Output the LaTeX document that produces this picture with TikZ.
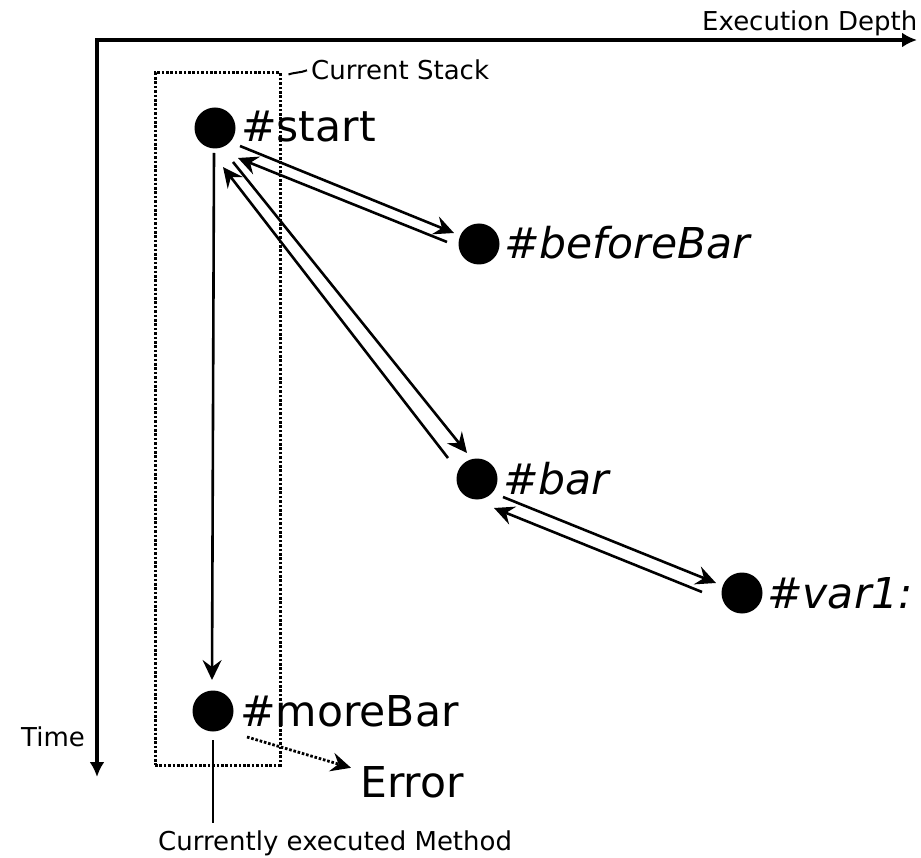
\documentclass[tikz,border=0pt]{standalone}
\usepackage{fontspec}
\setmainfont{DejaVu Sans}
\usetikzlibrary{arrows.meta}

\tikzset{
  dot/.style={circle, fill=black, inner sep=0pt, minimum size=41pt},
  biglabel/.style={anchor=base west, inner sep=0pt, font=\fontsize{42.5}{50}\selectfont},
  smalllabel/.style={anchor=base west, inner sep=0pt, font=\fontsize{26}{30}\selectfont},
  axis/.style={line width=3.3pt, line join=miter, {Latex[length=15pt,width=15pt]}-{Latex[length=15pt,width=15pt]}},
  call/.style={line width=2.6pt, -{Stealth[length=20pt,width=19pt,inset=7pt]}},
  stackbox/.style={draw, line width=3pt, dash pattern=on 2.6pt off 1.8pt, minimum width=125pt, minimum height=692pt, inner sep=0pt},
  throw/.style={line width=2.8pt, dash pattern=on 2.6pt off 1.8pt, -{Stealth[length=20pt,width=19pt,inset=7pt]}},
  pointer/.style={line width=2.6pt}
}

\begin{document}
\begin{tikzpicture}[x=1pt, y=-1pt]
  \useasboundingbox (0,0) rectangle (921,858);

  % axes
  \coordinate (O) at (97,40);
  \coordinate (tEnd) at (97,777);
  \coordinate (dEnd) at (917,40);
  \draw[axis] (tEnd) -- (O) -- (dEnd);
  \node[smalllabel] (depth) at (702,31) {Execution Depth};
  \node[smalllabel] (time) at (21,746) {Time};

  % current stack frame
  \node[stackbox] (stack) at (217.5,419) {};
  \node[smalllabel] (cs) at (311,80) {Current Stack};
  \draw[pointer, line width=2pt] ([shift={(7,3)}]stack.north east) .. controls (296,72) and (300,73) .. ([shift={(-4,0)}]cs.west);

  % method activations
  \node[dot] (s)  at (215,128) {};
  \node[dot] (bb) at (479,244) {};
  \node[dot] (b)  at (477,479) {};
  \node[dot] (v)  at (742,593) {};
  \node[dot] (m)  at (213,711) {};

  \node[biglabel] (sl)  at (241,142) {\#start};
  \node[biglabel] (bbl) at (504,259) {\itshape\#beforeBar};
  \node[biglabel] (bl)  at (503,494) {\itshape\#bar};
  \node[biglabel] (vl)  at (767,608) {\itshape\#var1:};
  \node[biglabel] (ml)  at (240,726) {\#moreBar};
  \node[biglabel] (err) at (360,797) {Error};

  % calls and returns
  \draw[call] ([shift={(25,18)}]s.center)  -- ([shift={(-25,-11)}]bb.center);
  \draw[call] ([shift={(-32,-2)}]bb.center) -- ([shift={(23,30)}]s.center);
  \draw[call] ([shift={(18,34)}]s.center)  -- ([shift={(-10,-26)}]b.center);
  \draw[call] ([shift={(-29,-21)}]b.center) -- ([shift={(8,39)}]s.center);
  \draw[call] ([shift={(26,18)}]b.center)  -- ([shift={(-26,-10)}]v.center);
  \draw[call] ([shift={(-40,-1)}]v.center) -- ([shift={(17,29)}]b.center);
  \draw[call] ([shift={(-1,25)}]s.center)  -- ([shift={(-1,-31)}]m.center);

  % exception
  \draw[throw] ([shift={(34,26)}]m.center) -- ([shift={(-9,-14)}]err.west);

  % currently executed method
  \node[smalllabel] (cem) at (158,850) {Currently executed Method};
  \coordinate (cemtop) at (213,823);
  \draw[pointer] ([shift={(0,29)}]m.center) -- (cemtop);
\end{tikzpicture}
\end{document}
